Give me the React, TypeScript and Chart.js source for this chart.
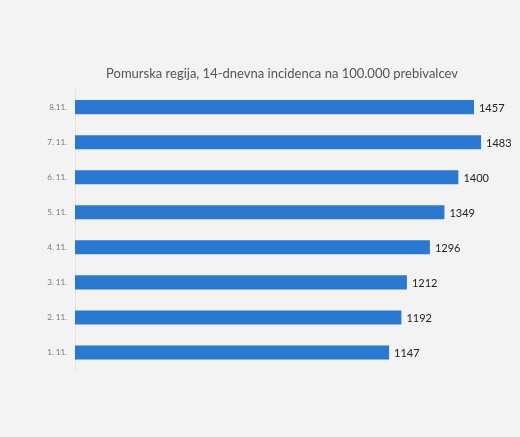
import React, { useEffect, useRef } from 'react';
import { Chart, registerables, Plugin } from 'chart.js';

Chart.register(...registerables);

const labels = ['8.11.', '7. 11.', '6. 11.', '5. 11.', '4. 11.', '3. 11.', '2. 11.', '1. 11.'];
const values = [1457, 1483, 1400, 1349, 1296, 1212, 1192, 1147];
const title = 'Pomurska regija, 14-dnevna incidenca na 100.000 prebivalcev';

// draws the value next to the end of each bar
const valueLabels: Plugin<'bar'> = {
  id: 'valueLabels',
  afterDatasetsDraw(chart) {
    const ctx = chart.ctx;
    const meta = chart.getDatasetMeta(0);
    ctx.save();
    ctx.font = '11px Lato';
    ctx.fillStyle = '#222';
    ctx.textAlign = 'left';
    ctx.textBaseline = 'middle';
    meta.data.forEach((bar: any, i: number) => {
      ctx.fillText(String(values[i]), bar.x + 5, bar.y + 1);
    });
    ctx.restore();
  },
};

const App: React.FC = () => {
  const canvasRef = useRef<HTMLCanvasElement | null>(null);
  const chartRef = useRef<Chart | null>(null);

  useEffect(() => {
    document.body.style.margin = '0';
    document.body.style.background = '#f3f3f3';
    if (!canvasRef.current) return;
    const ctx = canvasRef.current.getContext('2d');
    if (!ctx) return;

    chartRef.current = new Chart(ctx, {
      type: 'bar',
      data: {
        labels: labels,
        datasets: [{
          data: values,
          backgroundColor: '#2a78d0',
          borderWidth: 0,
          barPercentage: 1,
          categoryPercentage: 0.4,
        }],
      },
      options: {
        indexAxis: 'y',
        animation: false,
        responsive: false,
        layout: { padding: { top: 66, bottom: 67, left: 44, right: 0 } },
        plugins: {
          legend: { display: false },
          tooltip: { enabled: false },
          title: {
            display: true,
            text: title,
            color: '#555',
            font: { family: 'Lato', size: 13, weight: 'normal' },
            padding: { top: 0, bottom: 8 },
          },
        },
        scales: {
          x: {
            display: false,
            min: 0,
            max: 1625,
          },
          y: {
            afterFit: (s: any) => { s.width = 31; },
            grid: { display: false, drawTicks: false },
            border: { display: true, color: '#e2e2e2' },
            ticks: {
              color: '#777',
              padding: 8,
              font: { family: 'Lato', size: 8 },
            },
          },
        },
      },
      plugins: [valueLabels],
    });

    return () => {
      if (chartRef.current) {
        chartRef.current.destroy();
        chartRef.current = null;
      }
    };
  }, []);

  return (
    <div style={{ width: 520, height: 437, background: '#f3f3f3' }}>
      <canvas ref={canvasRef} width={520} height={437} />
    </div>
  );
};

export default App;
